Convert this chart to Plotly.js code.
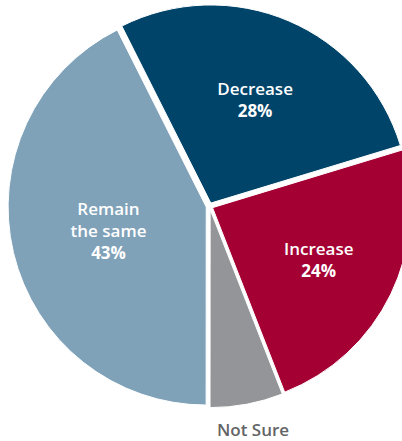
<!DOCTYPE html>
<html>
<head>
<meta charset="utf-8">
<script src="https://cdn.plot.ly/plotly-3.0.1.min.js"></script>
<style>html,body{margin:0;padding:0;background:#fff;overflow:hidden;width:402px;height:441px;}#chart{width:411px;height:441px;}</style>
</head>
<body>
<div id="chart"></div>
<script>
var categories = ["Decrease", "Increase", "Not Sure", "Remain<br>the same"];
var values = [28, 24, 6, 43];
var shownPct = ["28%", "24%", "", "43%"];
var colors = ["#00446a", "#a50034", "#939598", "#7fa2b9"];

var trace = {
  type: "pie",
  labels: categories,
  values: values,
  text: shownPct,
  sort: false,
  direction: "clockwise",
  rotation: -26.7,
  pull: [0.017, 0.017, 0.017, 0.017],
  marker: {colors: colors, line: {color: "#ffffff", width: 1}},
  textinfo: "text",
  texttemplate: ["%{label}<br><b>%{text}</b>", "%{label}<br><b>%{text}</b>", "", "%{label}<br><b>%{text}</b>"],
  textposition: ["inside", "inside", "none", "inside"],
  insidetextorientation: "horizontal",
  insidetextfont: {family: "Open Sans, sans-serif", size: 17, weight: 600, color: "#ffffff"},
  hoverinfo: "none",
  domain: {x: [0.0195, 1], y: [0.07, 0.995]},
  showlegend: false
};

var layout = {
  width: 411,
  height: 441,
  margin: {l: 0, r: 0, t: 0, b: 0},
  paper_bgcolor: "#ffffff",
  showlegend: false,
  annotations: [{
    text: categories[2],
    xref: "paper", yref: "paper",
    x: 0.615, y: 0.025,
    xanchor: "center", yanchor: "middle",
    showarrow: false,
    font: {family: "Open Sans, sans-serif", size: 17, weight: 600, color: "#636466"}
  }]
};

Plotly.newPlot("chart", [trace], layout, {displayModeBar: false, staticPlot: true});
</script>
</body>
</html>
